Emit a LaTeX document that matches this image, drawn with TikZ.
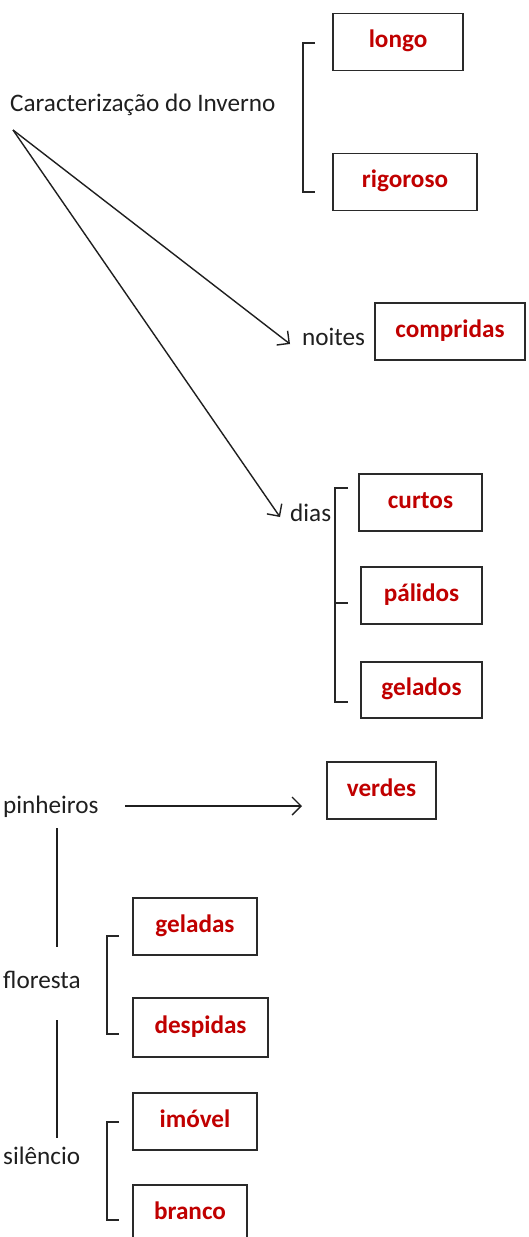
\documentclass[tikz,border=0pt]{standalone}
\usepackage{fontspec}
\setmainfont{Carlito}
\usetikzlibrary{arrows.meta}
\definecolor{wordred}{HTML}{C00000}
\definecolor{boxline}{HTML}{2A2A2A}
\begin{document}
\begin{tikzpicture}[x=1pt,y=-1pt,
  wordbox/.style={draw=boxline,line width=1.5pt,inner sep=0pt,
    minimum height=57pt,font=\fontsize{25.2}{29}\selectfont\bfseries,
    text=wordred,text height=17.4pt,text depth=6pt,align=center},
  label/.style={inner sep=0pt,anchor=base west,font=\fontsize{25.2}{29}\selectfont,text=black!88},
  link/.style={line width=1.4pt,black!88},
  arr/.style={link,-{Straight Barb[length=9pt,width=18pt,line width=1.4pt]}},
  brace/.style={line width=1.4pt,black!85}]
\useasboundingbox (0,0) rectangle (528,1237);
\clip (0,0) rectangle (528,1237);
% title and labels
\node[label] (title) at (10,111.5) {Caracterização do Inverno};
\node[label] (noites) at (302,345) {noites};
\node[label] (dias) at (290,521) {dias};
\node[label] (pinheiros) at (3,813) {pinheiros};
\node[label] (floresta) at (3,988) {floresta};
\node[label] (silencio) at (3,1164) {silêncio};
% boxes
\node[wordbox,minimum width=130pt] (longo) at (398,42) {longo};
\node[wordbox,minimum width=144pt] (rigoroso) at (405,182) {rigoroso};
\node[wordbox,minimum width=150pt] (compridas) at (450,331.5) {compridas};
\node[wordbox,minimum width=123pt] (curtos) at (420.5,502.5) {curtos};
\node[wordbox,minimum width=121pt] (palidos) at (421.5,595.5) {pálidos};
\node[wordbox,minimum width=121pt,minimum height=56pt] (gelados) at (421.5,690) {gelados};
\node[wordbox,minimum width=109pt] (verdes) at (381.5,790.5) {verdes};
\node[wordbox,minimum width=124pt] (geladas) at (195,926.5) {geladas};
\node[wordbox,minimum width=135pt,minimum height=59pt] (despidas) at (200.5,1027.5) {despidas};
\node[wordbox,minimum width=124pt] (imovel) at (195,1121.5) {imóvel};
\node[wordbox,minimum width=114pt] (branco) at (190,1213.5) {branco};
% connector end points
\coordinate (src) at (13,130);
\coordinate (noitesTip) at (290,344);
\coordinate (diasTip) at (280,517);
\coordinate (pinStart) at (125,806);
\coordinate (pinEnd) at (302,806);
\coordinate (v1a) at (57,828);
\coordinate (v1b) at (57,947);
\coordinate (v2a) at (57,1020);
\coordinate (v2b) at (57,1138);
% arrows
\draw[arr] (src) -- (noitesTip);
\draw[arr] (src) -- (diasTip);
\draw[arr] (pinStart) -- (pinEnd);
\draw[link] (v1a) -- (v1b);
\draw[link] (v2a) -- (v2b);
% brackets
\draw[brace] (315,43) -- (303,43) -- (303,192) -- (315,192);
\draw[brace] (348,488) -- (335,488) -- (335,702) -- (348,702);
\draw[brace,line width=2.4pt] (335,603) -- (348,603);
\draw[brace] (119,936) -- (107,936) -- (107,1034) -- (119,1034);
\draw[brace] (119,1122) -- (107,1122) -- (107,1220) -- (119,1220);
\end{tikzpicture}
\end{document}
